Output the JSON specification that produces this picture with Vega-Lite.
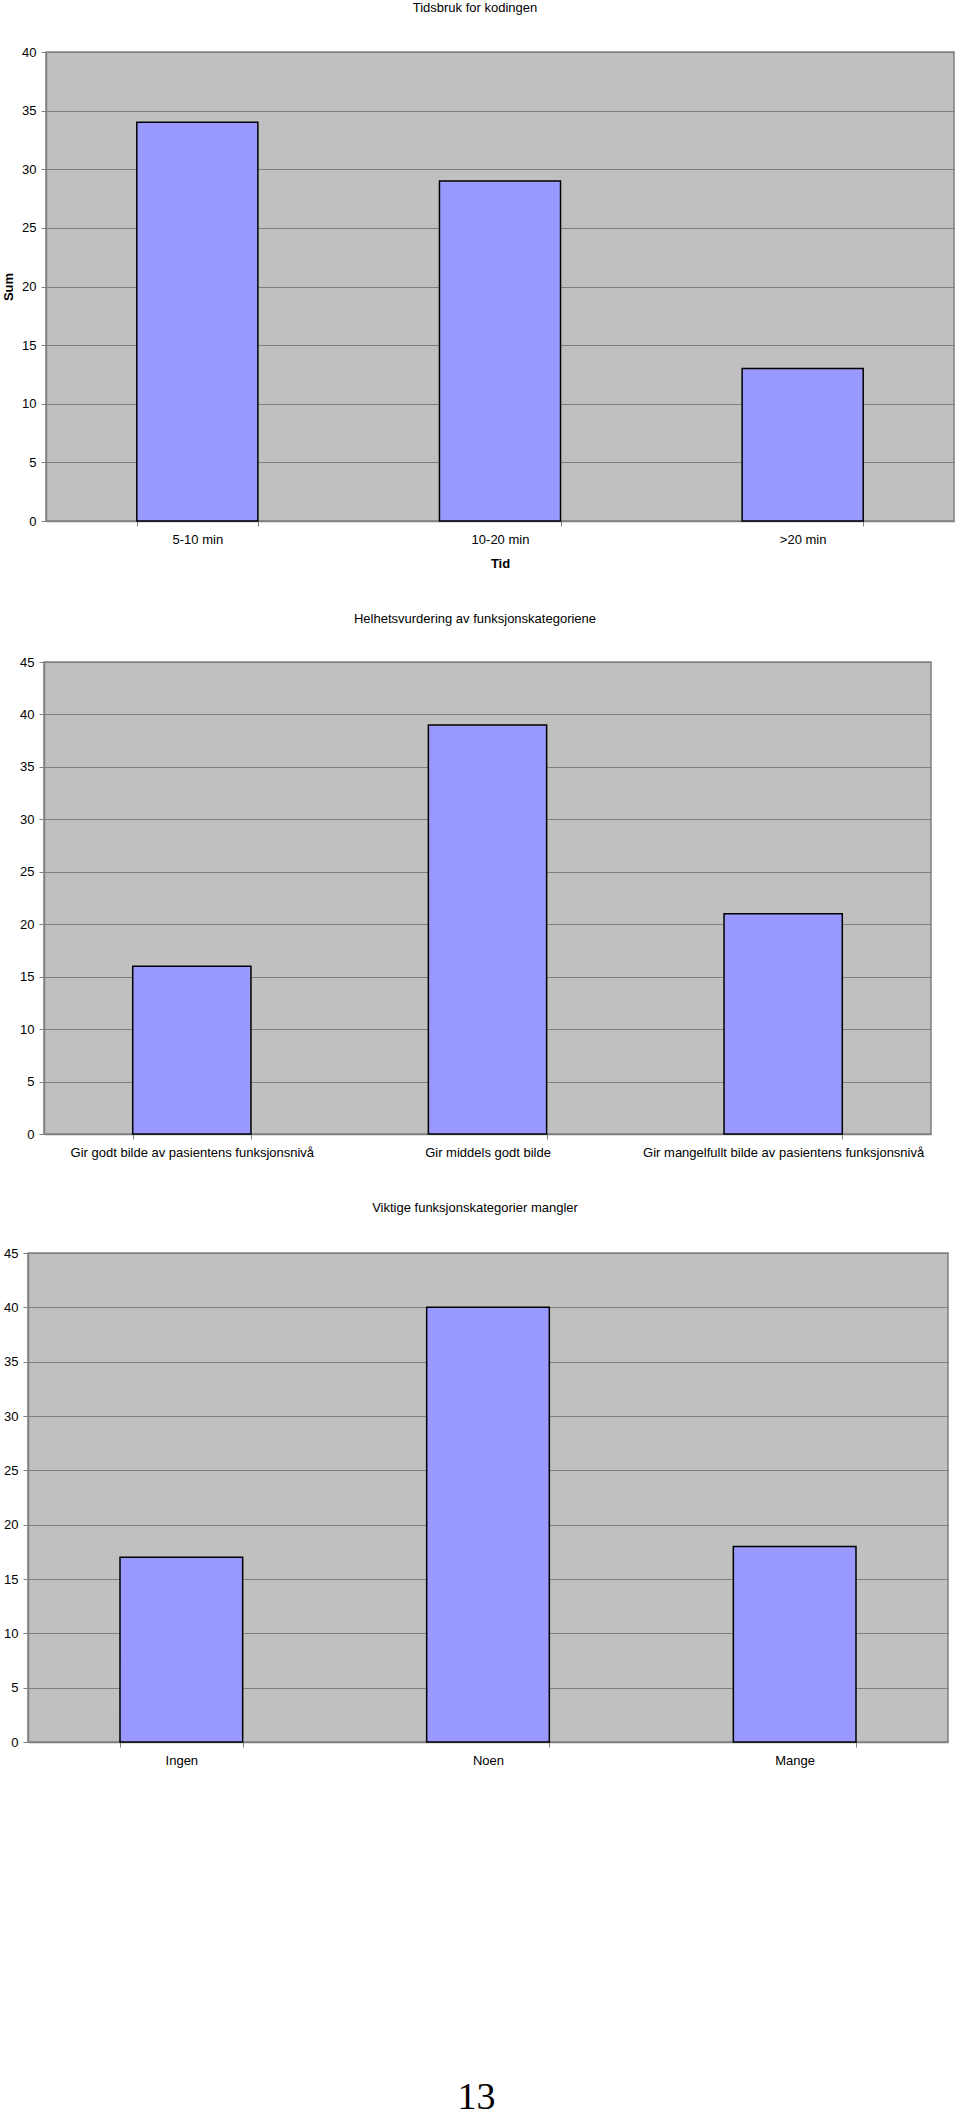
{
  "$schema": "https://vega.github.io/schema/vega-lite/v6.json",
  "padding": 0,
  "autosize": {"type": "pad"},
  "background": "white",
  "title": {"text": "13", "orient": "bottom", "anchor": "middle", "font": "Liberation Serif", "fontSize": 38, "fontWeight": "normal", "color": "black", "offset": 311, "dx": -1},
  "config": {
    "font": "Liberation Sans",
    "view": {"fill": "#C0C0C0", "stroke": "#808080", "strokeWidth": 1.5},
    "title": {"fontSize": 13, "fontWeight": "normal", "color": "black", "font": "Liberation Sans", "anchor": "middle"},
    "axis": {"labelFont": "Liberation Sans", "labelFontSize": 13, "labelColor": "black", "domainColor": "#808080", "tickColor": "#808080", "tickSize": 5, "titleFont": "Liberation Sans", "titleFontSize": 13, "titleFontWeight": "bold", "titleColor": "black", "domainWidth": 1.5},
    "axisX": {"grid": false, "labelAngle": 0, "labelPadding": 7, "tickBand": "extent", "labelLimit": 0},
    "axisY": {"grid": true, "gridColor": "#808080", "gridWidth": 1.2, "labelPadding": 5},
    "bar": {"fill": "#9999FF", "stroke": "black", "strokeWidth": 1.5}
  },
  "spacing": 40,
  "vconcat": [
    {
      "spacing": 0,
      "hconcat": [
        {"width": 1, "height": 1, "view": {"fill": "white", "stroke": null}, "data": {"values": []}, "mark": "rect", "encoding": {}},
        {
          "title": {"text": "Tidsbruk for kodingen", "offset": 31.5, "dx": -25},
          "width": 908,
          "height": 469,
          "data": {"values": [
            {"Tid": "5-10 min", "Sum": 34},
            {"Tid": "10-20 min", "Sum": 29},
            {"Tid": ">20 min", "Sum": 13}
          ]},
          "mark": {"type": "bar"},
          "encoding": {
            "x": {"field": "Tid", "type": "nominal", "sort": null, "scale": {"paddingInner": 0.6, "paddingOuter": 0.3}, "axis": {"title": "Tid", "titlePadding": 11}},
            "y": {"field": "Sum", "type": "quantitative", "scale": {"domain": [0, 40], "nice": false}, "axis": {"title": "Sum", "values": [0, 5, 10, 15, 20, 25, 30, 35, 40], "minExtent": 25, "titlePadding": 6}}
          }
        }
      ]
    },
    {
      "spacing": 0,
      "hconcat": [
        {"width": 1, "height": 1, "view": {"fill": "white", "stroke": null}, "data": {"values": []}, "mark": "rect", "encoding": {}},
        {
          "title": {"text": "Helhetsvurdering av funksjonskategoriene", "offset": 30.5, "dx": -12.5},
          "width": 887,
          "height": 472,
          "data": {"values": [
            {"Vurdering": "Gir godt bilde av pasientens funksjonsnivå", "Antall": 16},
            {"Vurdering": "Gir middels godt bilde", "Antall": 39},
            {"Vurdering": "Gir mangelfullt bilde av pasientens funksjonsnivå", "Antall": 21}
          ]},
          "mark": {"type": "bar"},
          "encoding": {
            "x": {"field": "Vurdering", "type": "nominal", "sort": null, "scale": {"paddingInner": 0.6, "paddingOuter": 0.3}, "axis": {"title": null}},
            "y": {"field": "Antall", "type": "quantitative", "scale": {"domain": [0, 45], "nice": false}, "axis": {"title": null, "values": [0, 5, 10, 15, 20, 25, 30, 35, 40, 45], "minExtent": 42}}
          }
        }
      ]
    },
    {
      "spacing": 0,
      "hconcat": [
        {"width": 1, "height": 1, "view": {"fill": "white", "stroke": null}, "data": {"values": []}, "mark": "rect", "encoding": {}},
        {
          "title": {"text": "Viktige funksjonskategorier mangler", "offset": 32.5, "dx": -13},
          "width": 920,
          "height": 489,
          "data": {"values": [
            {"Mangler": "Ingen", "Antall": 17},
            {"Mangler": "Noen", "Antall": 40},
            {"Mangler": "Mange", "Antall": 18}
          ]},
          "mark": {"type": "bar"},
          "encoding": {
            "x": {"field": "Mangler", "type": "nominal", "sort": null, "scale": {"paddingInner": 0.6, "paddingOuter": 0.3}, "axis": {"title": null}},
            "y": {"field": "Antall", "type": "quantitative", "scale": {"domain": [0, 45], "nice": false}, "axis": {"title": null, "values": [0, 5, 10, 15, 20, 25, 30, 35, 40, 45], "minExtent": 26}}
          }
        }
      ]
    }
  ]
}
